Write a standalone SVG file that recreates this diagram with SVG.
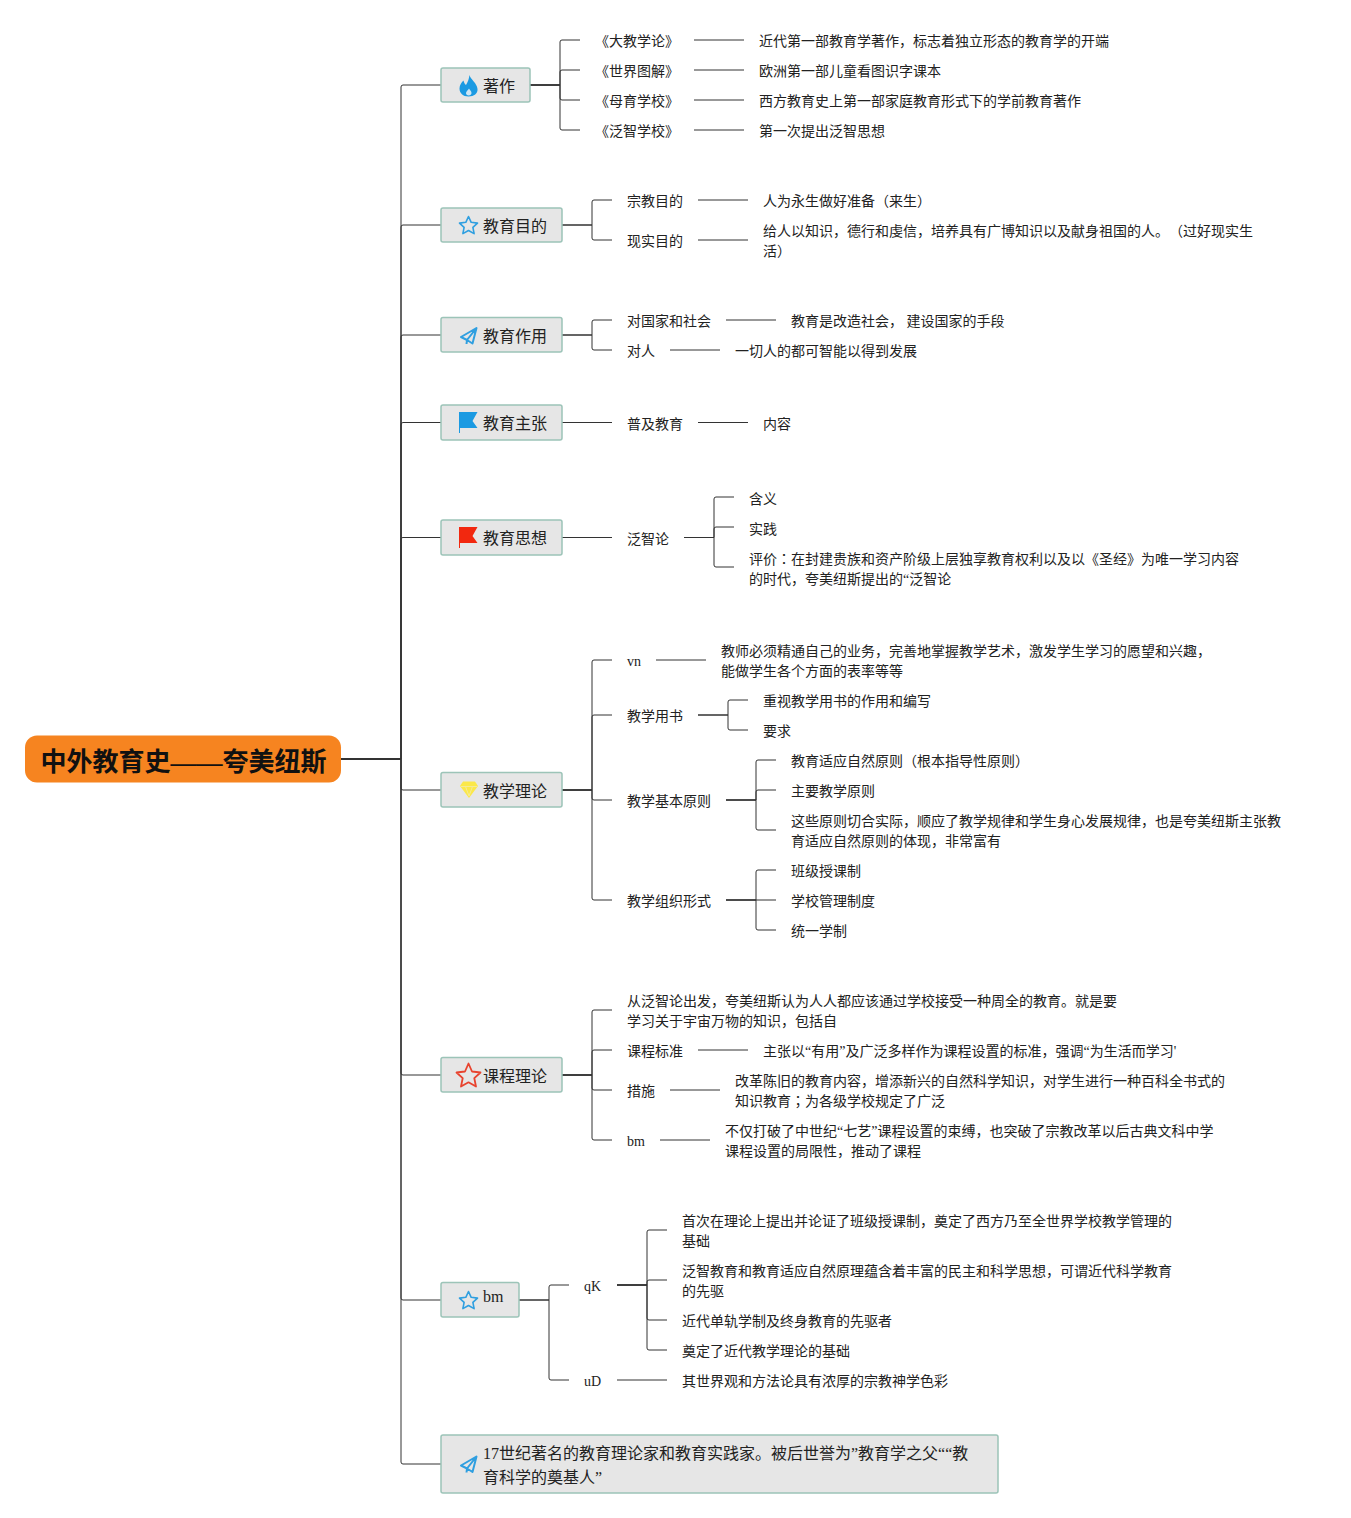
<svg xmlns="http://www.w3.org/2000/svg" width="1351" height="1518" viewBox="0 0 1351 1518">
<style>
text{font-family:"Liberation Serif","Noto Sans CJK SC",serif;fill:#222}
.l{font-size:14px}
.b{font-size:16px}
.r{font-size:26px;font-weight:700;fill:#111}
.tc{font-family:"Noto Sans CJK TC",sans-serif}
.box{fill:#e6e6e6;stroke:#9cc4b8;stroke-width:1.5}
.c path{fill:none;stroke:#333;stroke-width:1}
.blue{fill:#1b9ae2}
.ol{fill:none;stroke:#2f9fe0;stroke-width:1.6;stroke-linejoin:round}
.pl{fill:none;stroke:#2f9fe0;stroke-width:2;stroke-linejoin:round}
</style>
<rect width="1351" height="1518" fill="#fff"/>
<g id="connectors" class="c">
<path d="M341 759H401V87Q401 85 403 85H441"/>
<path d="M341 759H401V227Q401 225 403 225H441"/>
<path d="M341 759H401V337Q401 335 403 335H441"/>
<path d="M341 759H401V425Q401 422.5 403 422.5H441"/>
<path d="M341 759H401V539Q401 537.500 403 537.500H441"/>
<path d="M341 759H401V788Q401 790 403 790H441"/>
<path d="M341 759H401V1073Q401 1075 403 1075H441"/>
<path d="M341 759H401V1298Q401 1300 403 1300H441"/>
<path d="M341 759H401V1462Q401 1464 403 1464H441"/>
<path d="M530 85H560V42Q560 40 562 40H580"/>
<path d="M530 85H560V72Q560 70 562 70H580"/>
<path d="M530 85H560V98Q560 100 562 100H580"/>
<path d="M530 85H560V128Q560 130 562 130H580"/>
<path d="M694 40H744M694 70H744M694 100H744M694 130H744"/>
<path d="M562 225H592V202Q592 200 594 200H612"/>
<path d="M562 225H592V238Q592 240 594 240H612"/>
<path d="M698 200H748M698 240H748"/>
<path d="M562 335H592V322Q592 320 594 320H612"/>
<path d="M562 335H592V348Q592 350 594 350H612"/>
<path d="M726 320H776M670 350H720"/>
<path d="M562 422.500H612M698 422.500H748"/>
<path d="M562 537.500H612M684 537.500H714"/>
<path d="M714 537.500V499Q714 497 716 497H734"/>
<path d="M714 537.500V529Q714 527 716 527H734"/>
<path d="M714 537.500V565Q714 567 716 567H734"/>
<path d="M562 790H592V662Q592 660 594 660H612"/>
<path d="M562 790H592V717Q592 715 594 715H612"/>
<path d="M562 790H592V798Q592 800 594 800H612"/>
<path d="M562 790H592V898Q592 900 594 900H612"/>
<path d="M656 660H706"/>
<path d="M698 715H728V702Q728 700 730 700H748"/>
<path d="M698 715H728V728Q728 730 730 730H748"/>
<path d="M726 800H756V762Q756 760 758 760H776"/>
<path d="M726 800H756V792Q756 790 758 790H776"/>
<path d="M726 800H756V828Q756 830 758 830H776"/>
<path d="M726 900H756V872Q756 870 758 870H776"/>
<path d="M726 900H776"/>
<path d="M726 900H756V928Q756 930 758 930H776"/>
<path d="M562 1075H592V1012Q592 1010 594 1010H612"/>
<path d="M562 1075H592V1052Q592 1050 594 1050H612"/>
<path d="M562 1075H592V1088Q592 1090 594 1090H612"/>
<path d="M562 1075H592V1138Q592 1140 594 1140H612"/>
<path d="M698 1050H748M670 1090H720M660 1140H710"/>
<path d="M519 1300H549V1287Q549 1285 551 1285H569"/>
<path d="M519 1300H549V1378Q549 1380 551 1380H569"/>
<path d="M617 1285H647V1232Q647 1230 649 1230H667"/>
<path d="M617 1285H647V1282Q647 1280 649 1280H667"/>
<path d="M617 1285H647V1318Q647 1320 649 1320H667"/>
<path d="M617 1285H647V1348Q647 1350 649 1350H667"/>
<path d="M617 1380H667"/>
</g>
<g id="root"><rect x="25" y="735.500" width="316" height="47" rx="12" fill="#f68420"/><text class="r" x="40.500" y="771">中外教育史——夸美纽斯</text></g>

<g id="n-zhuzuo"><rect class="box" x="441" y="68" width="89" height="34" rx="2"/>
<path class="blue" d="M469.500 75C470.500 79.500 477 83 477.500 89C478 93.500 474 96.500 468.500 96.500C463 96.500 459.500 93 459.500 88.500C459.500 85 461.500 82.500 463.500 80.500C464 82.500 464.800 84 466 85C467.800 82 469 79 469.500 75Z"/>
<path fill="#cfe6f4" d="M469 88.500C470 90.500 471.500 91 471.500 93C471.500 94.500 470.300 95.500 468.700 95.500C467 95.500 466 94.500 466 93C466 91.500 468 90.300 469 88.500Z"/>
<text class="b" x="483" y="91.500">著作</text></g>
<g id="n-mudi"><rect class="box" x="441" y="208" width="121" height="34" rx="2"/>
<path class="ol" d="M468.500 216.500L471.200 222.300L477.500 223.100L472.900 227.400L474.100 233.600L468.500 230.500L462.900 233.600L464.100 227.400L459.500 223.100L465.800 222.300Z"/>
<text class="b" x="483" y="231.500">教育目的</text></g>
<g id="n-zuoyong"><rect class="box" x="441" y="317.500" width="121" height="34.500" rx="2"/>
<path class="pl" d="M476.500 328L461 337L467 340L476.500 328L472.500 343.500L467 340L466.500 344"/>
<text class="b" x="483" y="341.500">教育作用</text></g>
<g id="n-zhuzhang"><rect class="box" x="441" y="405" width="121" height="35" rx="2"/>
<path class="blue" d="M459 412H477.500L472.500 421L477.500 428H460V433H459Z"/>
<text class="b" x="483" y="429">教育主张</text></g>
<g id="n-sixiang"><rect class="box" x="441" y="520" width="121" height="35" rx="2"/>
<path fill="#f2280f" d="M459 527H477.500L472.500 536L477.500 543H460V548H459Z"/>
<text class="b" x="483" y="544">教育思想</text></g>
<g id="n-jiaoxue"><rect class="box" x="441" y="772.500" width="121" height="34.500" rx="2"/>
<path fill="#fbe84a" d="M463 781.500H475L478 786L469 798L460 786Z"/>
<path fill="none" stroke="#f5eb96" stroke-width="1" d="M461 786.500H477M465.500 786.500L469 796L472.500 786.500"/>
<text class="b" x="483" y="797">教学理论</text></g>
<g id="n-kecheng"><rect class="box" x="441" y="1057.500" width="121" height="34.500" rx="2"/>
<path fill="none" stroke="#e8432e" stroke-width="1.800" stroke-linejoin="round" d="M468.500 1063.500L472 1071.500L480.500 1072.500L474.300 1078.200L476 1086.500L468.500 1082.300L461 1086.500L462.700 1078.200L456.500 1072.500L465 1071.500Z"/>
<text class="b" x="483" y="1082">课程理论</text></g>
<g id="n-bm"><rect class="box" x="441" y="1282.500" width="78" height="34.500" rx="2"/>
<path class="ol" d="M468.500 1291.500L471.200 1297.300L477.500 1298.100L472.900 1302.400L474.100 1308.600L468.500 1305.500L462.900 1308.600L464.100 1302.400L459.500 1298.100L465.800 1297.300Z"/>
<text class="b" x="483" y="1302">bm</text></g>
<g id="n-summary"><rect class="box" x="441" y="1435" width="557" height="58" rx="2"/>
<path class="pl" d="M476.500 1456.500L461 1465.500L467 1468.500L476.500 1456.500L472.500 1472L467 1468.500L466.500 1472.500"/>
<text class="b" x="483" y="1459">17世纪著名的教育理论家和教育实践家。被后世誉为”教育学之父““教</text>
<text class="b" x="483" y="1483">育科学的奠基人”</text></g>

<g id="leaves" class="l">
<text class="l" x="595" y="46">《大教学论》</text>
<text class="l" x="595" y="76">《世界图解》</text>
<text class="l" x="595" y="106">《母育学校》</text>
<text class="l" x="595" y="136">《泛智学校》</text>
<text class="l" x="759" y="46">近代第一部教育学著作，标志着独立形态的教育学的开端</text>
<text class="l" x="759" y="76">欧洲第一部儿童看图识字课本</text>
<text class="l" x="759" y="106">西方教育史上第一部家庭教育形式下的学前教育著作</text>
<text class="l" x="759" y="136">第一次提出泛智思想</text>
<text class="l" x="627" y="206">宗教目的</text>
<text class="l" x="627" y="246">现实目的</text>
<text class="l" x="763" y="206">人为永生做好准备（来生）</text>
<text class="l" x="763" y="236">给人以知识，德行和虔信，培养具有广博知识以及献身祖国的人。<tspan x="1169">（过好现实生</tspan></text>
<text class="l" x="763" y="256">活）</text>
<text class="l" x="627" y="326">对国家和社会</text>
<text class="l" x="627" y="356">对人</text>
<text class="l" x="791" y="326">教育是改造社会， 建设国家的手段</text>
<text class="l" x="735" y="356">一切人的都可智能以得到发展</text>
<text class="l" x="627" y="429">普及教育</text>
<text class="l" x="763" y="429">内容</text>
<text class="l" x="627" y="544">泛智论</text>
<text class="l" x="749" y="504">含义</text>
<text class="l" x="749" y="534">实践</text>
<text class="l" x="749" y="564">评价<tspan class="tc">：</tspan>在封建贵族和资产阶级上层独享教育权利以及以《圣经》为唯一学习内容</text>
<text class="l" x="749" y="584">的时代，夸美纽斯提出的“泛智论</text>
<text class="l" x="627" y="666">vn</text>
<text class="l" x="721" y="656">教师必须精通自己的业务，完善地掌握教学艺术，激发学生学习的愿望和兴趣，</text>
<text class="l" x="721" y="676">能做学生各个方面的表率等等</text>
<text class="l" x="627" y="721">教学用书</text>
<text class="l" x="763" y="706">重视教学用书的作用和编写</text>
<text class="l" x="763" y="736">要求</text>
<text class="l" x="627" y="806">教学基本原则</text>
<text class="l" x="791" y="766">教育适应自然原则（根本指导性原则）</text>
<text class="l" x="791" y="796">主要教学原则</text>
<text class="l" x="791" y="826">这些原则切合实际，顺应了教学规律和学生身心发展规律，也是夸美纽斯主张教</text>
<text class="l" x="791" y="846">育适应自然原则的体现，非常富有</text>
<text class="l" x="627" y="906">教学组织形式</text>
<text class="l" x="791" y="876">班级授课制</text>
<text class="l" x="791" y="906">学校管理制度</text>
<text class="l" x="791" y="936">统一学制</text>
<text class="l" x="627" y="1006">从泛智论出发，夸美纽斯认为人人都应该通过学校接受一种周全的教育。就是要</text>
<text class="l" x="627" y="1026">学习关于宇宙万物的知识，包括自</text>
<text class="l" x="627" y="1056">课程标准</text>
<text class="l" x="763" y="1056">主张以“有用”及广泛多样作为课程设置的标准，强调“为生活而学习'</text>
<text class="l" x="627" y="1096">措施</text>
<text class="l" x="735" y="1086">改革陈旧的教育内容，增添新兴的自然科学知识，对学生进行一种百科全书式的</text>
<text class="l" x="735" y="1106">知识教育<tspan class="tc">；</tspan>为各级学校规定了广泛</text>
<text class="l" x="627" y="1146">bm</text>
<text class="l" x="725" y="1136">不仅打破了中世纪“七艺”课程设置的束缚，也突破了宗教改革以后古典文科中学</text>
<text class="l" x="725" y="1156">课程设置的局限性，推动了课程</text>
<text class="l" x="584" y="1291">qK</text>
<text class="l" x="682" y="1226">首次在理论上提出并论证了班级授课制，奠定了西方乃至全世界学校教学管理的</text>
<text class="l" x="682" y="1246">基础</text>
<text class="l" x="682" y="1276">泛智教育和教育适应自然原理蕴含着丰富的民主和科学思想，可谓近代科学教育</text>
<text class="l" x="682" y="1296">的先驱</text>
<text class="l" x="682" y="1326">近代单轨学制及终身教育的先驱者</text>
<text class="l" x="682" y="1356">奠定了近代教学理论的基础</text>
<text class="l" x="584" y="1386">uD</text>
<text class="l" x="682" y="1386">其世界观和方法论具有浓厚的宗教神学色彩</text>
</g>
</svg>
